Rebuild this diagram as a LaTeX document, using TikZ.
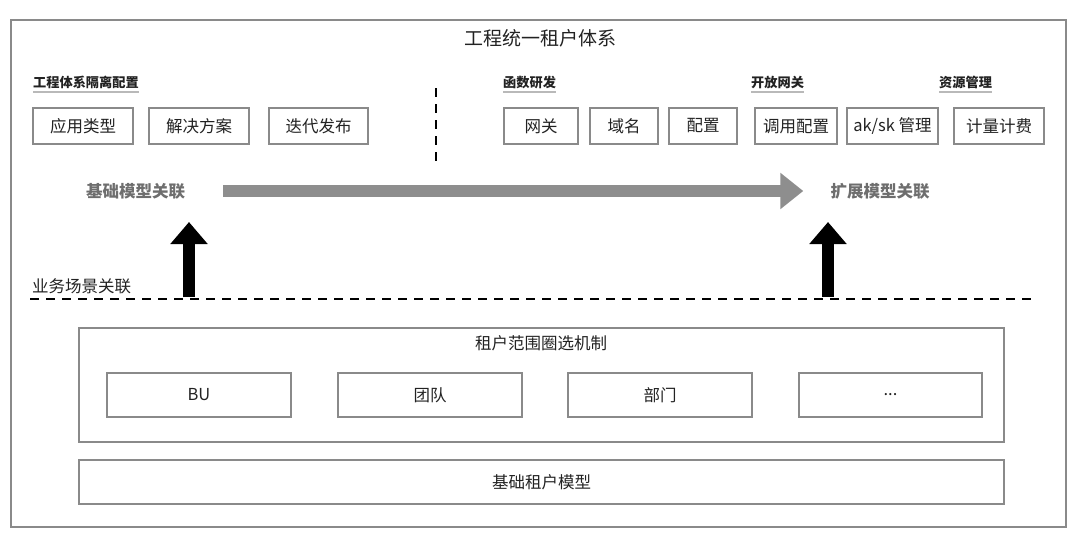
\documentclass[tikz,border=0pt]{standalone}
\usepackage{fontspec}
\setmainfont{Noto Sans CJK SC}
\usetikzlibrary{arrows.meta}

\definecolor{linegray}{HTML}{8A8A8A}
\definecolor{textdark}{HTML}{222222}
\definecolor{relgray}{HTML}{6E6E6E}
\definecolor{arrowgray}{HTML}{8E8E8E}

\begin{document}
\begin{tikzpicture}[x=1pt, y=-1pt,
    box/.style={draw=linegray, line width=1.2pt, inner sep=0pt, text=textdark,
        font=\fontsize{16.5}{19}\selectfont},
    grouplabel/.style={anchor=west, inner sep=0pt, text=textdark,
        font=\fontsize{13.2}{15}\selectfont\bfseries},
    rellabel/.style={inner sep=0pt, text=relgray, font=\fontsize{16.5}{19}\selectfont\bfseries},
    plainlabel/.style={inner sep=0pt, text=textdark, font=\fontsize{16.5}{19}\selectfont},
    flowarrow/.style={line width=12pt, draw=arrowgray,
        -{Triangle[width=35pt,length=23pt]}},
    liftarrow/.style={line width=12pt, draw=black,
        -{Triangle[width=36pt,length=22pt]}},
    sepline/.style={line width=1.3pt, dash pattern=on 9pt off 7pt}]
        \useasboundingbox (0,0) rectangle (1080,544);
        % outer frame
        \draw[linegray, line width=1.3pt] (11,20) rectangle (1066,527);
        \node[plainlabel, font=\fontsize{19}{22}\selectfont] (title) at (540,38) {工程统一租户体系};

        % group labels
        \node[grouplabel] (gEng) at (33,82) {工程体系隔离配置};
        \node[grouplabel] (gFunc) at (503,82) {函数研发};
        \node[grouplabel] (gGw) at (751,82) {开放网关};
        \node[grouplabel] (gRes) at (939,82) {资源管理};
        \foreach \g in {gEng,gFunc,gGw,gRes}
            \draw[gray!55, line width=2pt] ([yshift=-3pt]\g.south west) -- ([yshift=-3pt]\g.south east);

        % top boxes
        \foreach \n/\x/\w/\t in {bApp/83/100/应用类型, bSol/199/100/解决方案, bRel/318.5/99/迭代发布,
                bGw/541/74/网关, bDom/624/68/域名, bCfg/703/68/配置,
                bCall/796/82/调用配置, bAk/892.5/91/{ak/sk 管理}, bBill/999/90/计量计费}
            \node[box, minimum width=\w pt, minimum height=36pt] (\n) at (\x,126) {\t};

        \coordinate (sepT) at (436,88);
        \coordinate (sepB) at (436,165);
        \draw[sepline] (sepT) -- (sepB);

        % model relations
        \node[rellabel] (baseRel) at (135.5,191) {基础模型关联};
        \node[rellabel] (extRel) at (880,191) {扩展模型关联};
        \draw[flowarrow, shorten <=38pt, shorten >=27pt] (baseRel.east) -- (extRel.west);

        % business scene
        \node[plainlabel, anchor=west] (bizRel) at (32,286) {业务场景关联};
        \coordinate (dashL) at (30,299);
        \coordinate (dashR) at (1036,299);
        \draw[sepline] (dashL) -- (dashR);
        \coordinate (lowL) at (189,297);
        \coordinate (upL) at (189,222);
        \coordinate (lowR) at (828,297);
        \coordinate (upR) at (828,222);
        \draw[liftarrow] (lowL) -- (upL);
        \draw[liftarrow] (lowR) -- (upR);

        % tenant scope
        \node[box, minimum width=925pt, minimum height=114pt] (tScope) at (541.5,385) {};
        \node[plainlabel] (scopeTitle) at (541,343) {租户范围圈选机制};
        \node[box, minimum width=184pt, minimum height=44pt] (bBU) at (199,395) {BU};
        \node[box, minimum width=184pt, minimum height=44pt] (bTeam) at (430,395) {团队};
        \node[box, minimum width=184pt, minimum height=44pt] (bDept) at (660,395) {部门};
        \node[box, minimum width=183pt, minimum height=44pt] (bMore) at (890.5,395) {...};

        \node[box, minimum width=925pt, minimum height=44pt] (tBase) at (541.5,482) {基础租户模型};
    \end{tikzpicture}
\end{document}
